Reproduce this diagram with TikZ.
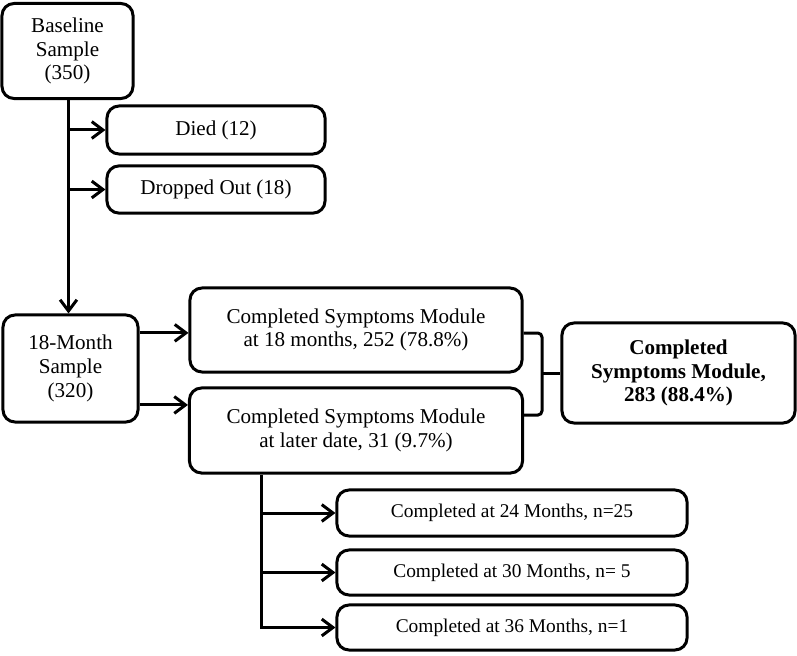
\documentclass[tikz,border=0pt]{standalone}
\usepackage{fontspec}
\setmainfont{Liberation Serif}
\usepackage{tikz}
\usetikzlibrary{arrows.meta}
\usetikzlibrary{calc}

\begin{document}
\begin{tikzpicture}[x=0.025cm,y=-0.025cm,
		box/.style={draw,line width=0.075cm,rounded corners=0.3cm,align=center,inner sep=0pt,font=\fontsize{15}{16.8}\selectfont},
		subbox/.style={box,font=\fontsize{13.8}{15}\selectfont},
		arr/.style={line width=0.075cm,-{Straight Barb[length=0.28cm,width=0.42cm,line width=0.075cm]}},
		ln/.style={line width=0.075cm}]
		\useasboundingbox (0,0) rectangle (797,656);
		\node[box,minimum width=3.275cm,minimum height=2.375cm] (base) at (67.5,51) {Baseline\\Sample\\(350)};
		\node[box,minimum width=5.45cm,minimum height=1.2cm] (died) at (216,130) {Died (12)};
		\node[box,minimum width=5.45cm,minimum height=1.18cm] (drop) at (216,189.5) {Dropped Out (18)};
		\node[box,minimum width=3.375cm,minimum height=2.675cm] (m18) at (70.5,368.5) {18-Month\\Sample\\(320)};
		\node[box,minimum width=8.3cm,minimum height=2.1cm] (c18) at (356,330) {Completed Symptoms Module\\at 18 months, 252 (78.8\%)};
		\node[box,minimum width=8.325cm,minimum height=2.125cm] (clate) at (356,430.5) {Completed Symptoms Module\\at later date, 31 (9.7\%)};
		\node[box,minimum width=5.825cm,minimum height=2.5cm,font=\bfseries\fontsize{15}{16.8}\selectfont] (total) at (678.5,373) {Completed\\Symptoms Module,\\283 (88.4\%)};
		\node[subbox,minimum width=8.75cm,minimum height=1.15cm] (m24) at (512,513) {Completed at 24 Months, n=25};
		\node[subbox,minimum width=8.75cm,minimum height=1.125cm] (m30) at (512,572.5) {Completed at 30 Months, n= 5};
		\node[subbox,minimum width=8.75cm,minimum height=1.125cm] (m36) at (512,627.5) {Completed at 36 Months, n=1};

		\coordinate (trunk) at ([xshift=0.025cm,yshift=0.0375cm]base.south);
		\draw[arr] (trunk) -- (trunk |- m18.north);
		\draw[arr] (trunk |- died.west) -- (died.west);
		\draw[arr] (trunk |- drop.west) -- (drop.west);

		\draw[arr] ([yshift=0.89cm]m18.east) -- ([yshift=0.89cm]m18.east -| c18.west);
		\draw[arr] ([yshift=-0.91cm]m18.east) -- ([yshift=-0.91cm]m18.east -| clate.west);

		\coordinate (brk) at (542,373);
		\draw[ln,rounded corners=3pt] ([yshift=-0.075cm]c18.east) -| (brk) |- ([yshift=0.385cm]clate.east);
		\draw[ln] (brk) -- (total.west);

		\coordinate (tap) at ([xshift=1.85cm]clate.south west);
		\draw[arr] (tap) |- (m36.west);
		\draw[arr] (tap |- m24.west) -- (m24.west);
		\draw[arr] (tap |- m30.west) -- (m30.west);
	\end{tikzpicture}
\end{document}
